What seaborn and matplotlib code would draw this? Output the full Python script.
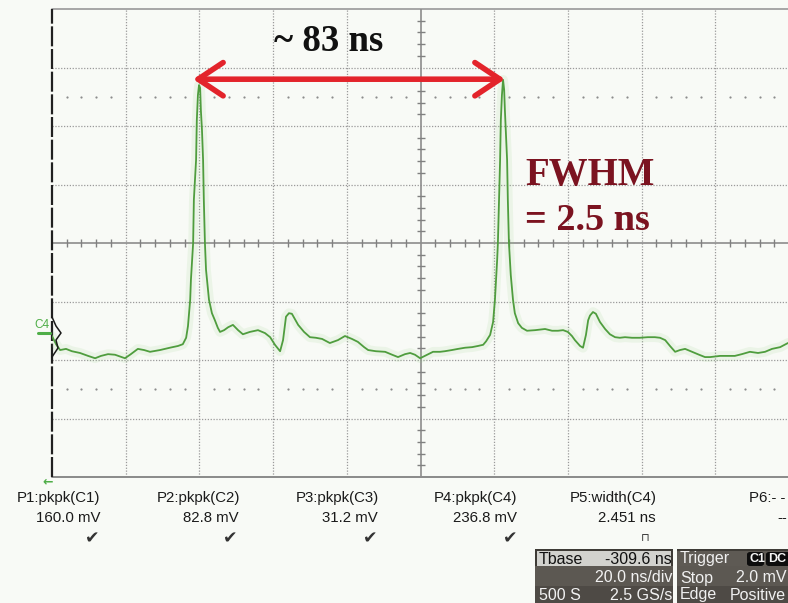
import numpy as np
import pandas as pd
import matplotlib
matplotlib.use("Agg")
import matplotlib.pyplot as plt
import seaborn as sns
from matplotlib.patches import Rectangle, FancyBboxPatch
from matplotlib.lines import Line2D

# ---------------- data (time in ns, amplitude in screen divisions) ----------------
trace_t_ns = [0.0, 1.1, 2.2, 3.8, 5.4, 7.6, 9.8, 11.7, 13.3, 15.2, 17.1, 19.8, 21.4, 23.3, 25.0,
              26.6, 29.3, 32.0, 34.2, 35.5, 36.4, 36.9, 37.5, 37.7, 38.3, 38.5, 39.1, 39.3, 39.6,
              39.9, 40.2, 40.4, 40.7, 41.0, 41.2, 41.5, 41.8, 42.6, 43.4, 44.2, 45.0, 45.6, 46.7,
              47.8, 49.1, 50.5, 51.8, 53.7, 55.9, 57.8, 59.2, 60.5, 61.9, 62.7, 63.5, 64.3, 65.1,
              66.8, 68.4, 70.0, 71.6, 73.3, 75.4, 77.6, 79.5, 81.4, 83.0, 84.7, 85.8, 87.9, 90.4,
              92.3, 93.9, 95.8, 97.2, 98.5, 99.9, 101.8, 103.4, 105.3, 106.6, 108.5, 110.2, 112.1,
              114.0, 115.6, 117.0, 117.8, 118.9, 119.7, 120.2, 120.8, 121.0, 121.3, 121.6, 121.8,
              122.1, 122.4, 122.7, 122.9, 123.2, 123.5, 123.7, 124.0, 124.5, 125.1, 125.6, 126.5,
              127.5, 128.9, 131.1, 133.8, 135.7, 137.3, 138.7, 140.0, 141.1, 141.9, 143.3, 144.1,
              144.9, 145.5, 146.0, 146.8, 147.6, 148.7, 150.1, 151.4, 152.8, 154.1, 155.5, 157.4,
              159.5, 161.7, 163.6, 165.0, 166.4, 167.7, 169.1, 170.4, 171.8, 173.7, 175.6, 177.2,
              178.6, 181.3, 183.4, 185.3, 187.2, 189.4, 191.6, 193.5, 195.4, 197.6, 199.7]
trace_v_div = [-1.59, -1.73, -1.83, -1.81, -1.85, -1.88, -1.93, -1.97, -1.93, -1.90, -1.91, -1.97,
               -1.90, -1.81, -1.83, -1.86, -1.83, -1.79, -1.76, -1.73, -1.62, -1.42, -0.97, -0.63,
               0.00, 0.74, 1.42, 2.10, 2.53, 2.70, 2.65, 2.27, 1.93, 1.42, 0.74, 0.00, -0.46, -0.97,
               -1.20, -1.32, -1.45, -1.52, -1.49, -1.44, -1.40, -1.49, -1.56, -1.52, -1.49, -1.54,
               -1.61, -1.74, -1.85, -1.66, -1.26, -1.20, -1.21, -1.40, -1.52, -1.61, -1.62, -1.64,
               -1.71, -1.66, -1.59, -1.64, -1.69, -1.78, -1.83, -1.85, -1.86, -1.91, -1.95, -1.90,
               -1.88, -1.91, -1.97, -1.91, -1.86, -1.86, -1.85, -1.83, -1.81, -1.79, -1.78, -1.76,
               -1.74, -1.68, -1.57, -1.35, -0.97, -0.29, 0.00, 0.74, 1.42, 2.10, 2.53, 2.79, 2.62,
               2.27, 1.85, 1.42, 0.74, 0.00, -0.55, -0.97, -1.20, -1.37, -1.45, -1.50, -1.49, -1.47,
               -1.50, -1.50, -1.49, -1.52, -1.59, -1.66, -1.76, -1.79, -1.57, -1.32, -1.24, -1.18,
               -1.21, -1.35, -1.47, -1.56, -1.61, -1.62, -1.61, -1.62, -1.62, -1.61, -1.61, -1.62,
               -1.66, -1.76, -1.86, -1.83, -1.81, -1.86, -1.91, -1.95, -1.95, -1.93, -1.93, -1.93,
               -1.90, -1.86, -1.88, -1.86, -1.81, -1.78, -1.71]

period_arrow_ns = [38.3, 122.9]
period_label = "~ 83 ns"
fwhm_lines = ["FWHM", "= 2.5 ns"]

meas_names = ["P1:pkpk(C1)", "P2:pkpk(C2)", "P3:pkpk(C3)", "P4:pkpk(C4)", "P5:width(C4)", "P6:- -"]
meas_values = ["160.0 mV", "82.8 mV", "31.2 mV", "236.8 mV", "2.451 ns", "--"]
meas_status = ["\u2714", "\u2714", "\u2714", "\u2714", "\u2293", ""]

tbase_rows = [("Tbase", "-309.6 ns"), ("", "20.0 ns/div"), ("500 S", "2.5 GS/s")]
trig_rows = [("Trigger", ""), ("Stop", "2.0 mV"), ("Edge", "Positive")]

# ---------------- figure ----------------
W, H = 788, 603
BG = "#f8faf6"
sns.set_theme(style="white")
plt.rcParams["font.family"] = ["Liberation Sans", "DejaVu Sans"]

fig = plt.figure(figsize=(W / 100, H / 100), dpi=100, facecolor=BG)
ax = fig.add_axes([52 / W, 1 - 477 / H, 737 / W, 468 / H])
ax.set_facecolor(BG)
for s in ax.spines.values():
    s.set_visible(False)

# graticule
grid_c = "#9a9a9a"
for gx in np.arange(20, 200, 20):
    if gx != 100:
        ax.axvline(gx, color=grid_c, lw=0.9, ls=(0, (1, 1.3)), zorder=1)
for gy in np.arange(-3, 4, 1):
    if gy != 0:
        ax.axhline(gy, color=grid_c, lw=0.9, ls=(0, (1, 1.3)), zorder=1)
ax.axhline(4, color="#a0a0a0", lw=1.3, zorder=1, clip_on=False)
ax.axhline(-4, color="#8a8a8a", lw=1.4, zorder=1, clip_on=False)
ax.axvline(100, color="#8c8c8c", lw=1.2, zorder=1)
ax.axhline(0, color="#8c8c8c", lw=1.2, zorder=1)
ax.axvline(0, color="#202020", lw=1.6, ls=(0, (9, 1.2)), zorder=3, clip_on=False)

# minor ticks on the centre axes
mt_x = [x for x in np.arange(4, 200, 4) if x % 20 != 0]
mt_y = [y for y in np.arange(-3.8, 4.0, 0.2) if abs(y - round(y)) > 1e-6]
ax.plot(mt_x, [0] * len(mt_x), ls="none", marker="|", ms=6, mew=1.0, color="#808080", zorder=2)
ax.plot([100] * len(mt_y), mt_y, ls="none", marker="_", ms=6, mew=1.0, color="#808080", zorder=2)

# cursor dot rows
dot_x = [x for x in np.arange(4, 200, 4) if x % 20 != 0]
for yy in (2.5, -2.5):
    ax.plot(dot_x, [yy] * len(dot_x), ls="none", marker="o", ms=1.6, color="#8c8c8c", mew=0, zorder=2)

# trace
df = pd.DataFrame({"t": trace_t_ns, "v": trace_v_div})
sns.lineplot(data=df, x="t", y="v", ax=ax, color="#8fd07c", lw=7, alpha=0.12, sort=False,
             estimator=None, zorder=4, legend=False)
sns.lineplot(data=df, x="t", y="v", ax=ax, color="#4f9d3e", lw=1.3, sort=False,
             estimator=None, zorder=5, legend=False)
ax.set_xlabel("")
ax.set_ylabel("")
ax.set_xticks([])
ax.set_yticks([])
ax.set_xlim(0, 200)
ax.set_ylim(-4, 4)

# period arrow + annotations
ax.annotate("", xy=(period_arrow_ns[1], 2.80), xytext=(period_arrow_ns[0], 2.80),
            arrowprops=dict(arrowstyle="<->,head_length=0.45,head_width=0.3", color="#e3242b",
                            lw=4, mutation_scale=40, shrinkA=0, shrinkB=0), zorder=6)
ax.text(sum(period_arrow_ns) / 2 - 5.6, 3.44, period_label, ha="center", va="center",
        fontsize=26.5, fontweight="bold", family=["Liberation Serif", "DejaVu Serif"], color="#111111")
ax.text(128.4, 0.99, fwhm_lines[0], ha="left", va="baseline", fontsize=28, fontweight="bold",
        family=["Liberation Serif", "DejaVu Serif"], color="#7b1320")
ax.text(128.4, 0.22, fwhm_lines[1], ha="left", va="baseline", fontsize=27.5, fontweight="bold",
        family=["Liberation Serif", "DejaVu Serif"], color="#7b1320")

# C4 marker
fig.text(42 / W, 1 - 325 / H, "C4", color="#4fae48", fontsize=8.5, ha="center", va="center")
fig.add_artist(Line2D([38 / W, 50 / W], [1 - 333 / H, 1 - 333 / H], color="#4fae48", lw=2.2))
zx = [52, 56, 61, 56, 58, 52]
zy = [317, 326, 333, 340, 348, 357]
fig.add_artist(Line2D([x / W for x in zx], [1 - y / H for y in zy], color="#1a1a1a", lw=1.1))
fig.text(48 / W, 1 - 482 / H, "\u2190", color="#4fae48", fontsize=9, ha="center", va="center",
         family=["DejaVu Sans"], fontweight="bold")

# measurement table
col_right = [100, 239, 378, 517, 656, 787]
col_left = [17, 157, 296, 434, 570, 749]
check_x = [92, 230, 370, 510, 645, 780]
for i in range(6):
    fig.text(col_left[i] / W, 1 - 498 / H, meas_names[i], fontsize=10.8, color="#1a1a1a",
             ha="left", va="center")
    fig.text(col_right[i] / W, 1 - 518 / H, meas_values[i], fontsize=10.8, color="#1a1a1a",
             ha="right", va="center")
    if meas_status[i]:
        fig.text(check_x[i] / W, 1 - 538 / H, meas_status[i], fontsize=12.5 if i < 4 else 8,
                 color="#333333", ha="center", va="center", family=["DejaVu Sans"])

# timebase / trigger boxes
def fr(x0, y0, x1, y1, color, z=1):
    fig.add_artist(Rectangle((x0 / W, 1 - y1 / H), (x1 - x0) / W, (y1 - y0) / H,
                             facecolor=color, edgecolor="none", zorder=z))

fr(535, 549, 673, 603, "#3e3b36")
fr(535, 566, 673, 586, "#5c5852")
fr(535, 586, 673, 603, "#4e4a45")
fr(537, 551, 671, 566, "#d2d2ce", 2)
fr(677, 549, 790, 603, "#3e3b36")
fr(677, 551, 790, 566, "#5e5a54")
fr(677, 566, 790, 586, "#5c5852")
fr(677, 586, 790, 603, "#4e4a45")

row_y = [559, 578, 595]
for j, (l, r) in enumerate(tbase_rows):
    c = "#111111" if j == 0 else "#f2f2f2"
    if l:
        fig.text(539 / W, 1 - row_y[j] / H, l, fontsize=11.5, color=c, ha="left", va="center", zorder=5)
    if r:
        fig.text(672 / W, 1 - row_y[j] / H, r, fontsize=11.5, color=c, ha="right", va="center", zorder=5)
for j, (l, r) in enumerate(trig_rows):
    c = "#f0f0f0"
    if l:
        fig.text(680 / W, 1 - row_y[j] / H, l, fontsize=11.5, color=c, ha="left", va="center", zorder=5)
    if r:
        fig.text(786 / W, 1 - row_y[j] / H, r, fontsize=11.5, color=c, ha="right", va="center", zorder=5)
# C1 / DC badges
for x0, x1, lab in [(747, 764, "C1"), (766, 792, "DC")]:
    fig.add_artist(FancyBboxPatch((x0 / W, 1 - 566 / H), (x1 - x0) / W, 14 / H,
                                  boxstyle="round,pad=0,rounding_size=0.004",
                                  facecolor="#0d0d0d", edgecolor="none", zorder=4))
    fig.text((x0 + 2) / W, 1 - 559 / H, lab, fontsize=9, fontweight="bold", color="#f5f5f5",
             ha="left", va="center", zorder=5)

fig.savefig("out.png", dpi=100, facecolor=BG)
